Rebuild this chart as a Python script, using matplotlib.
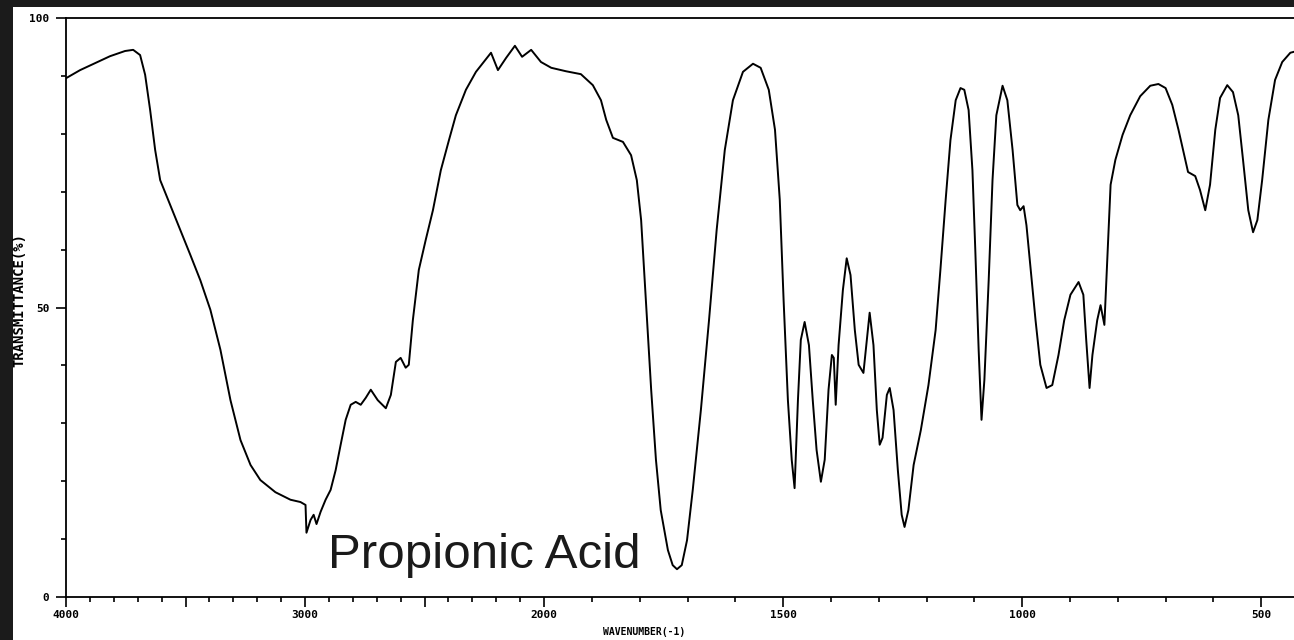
import numpy as np
import matplotlib
matplotlib.use("Agg")
import matplotlib.pyplot as plt
from matplotlib.ticker import FixedLocator, FixedFormatter
from matplotlib.patches import Rectangle

# wavenumber (cm-1) and transmittance (%)
wavenumber = [
    4000, 3941, 3878, 3816, 3753, 3719, 3690, 3669, 3648, 3627, 3606, 3564, 3522,
    3480, 3438, 3396, 3354, 3312, 3270, 3228, 3187, 3124, 3061, 3019, 2998, 2994,
    2977, 2964, 2952, 2935, 2914, 2893, 2872, 2851, 2830, 2809, 2788, 2767, 2746,
    2725, 2696, 2662, 2641, 2620, 2600, 2579, 2566, 2549, 2524, 2495, 2465, 2432,
    2398, 2369, 2327, 2285, 2247, 2222, 2193, 2159, 2122, 2092, 2054, 2013,
    1985, 1954, 1923, 1898, 1881, 1870, 1856, 1835, 1818, 1806, 1797, 1787, 1776,
    1766, 1756, 1741, 1731, 1722, 1712, 1701, 1689, 1672, 1655, 1639, 1622, 1605,
    1584, 1563, 1547, 1530, 1517, 1507, 1499, 1490, 1482, 1476, 1469, 1463, 1455,
    1446, 1438, 1430, 1421, 1413, 1405, 1398, 1394, 1390, 1384, 1375, 1367, 1359,
    1350, 1342, 1332, 1325, 1319, 1311, 1304, 1298, 1292, 1283, 1277, 1269, 1260,
    1252, 1246, 1238, 1227, 1212, 1196, 1181, 1171, 1160, 1150, 1139, 1129, 1121,
    1112, 1104, 1098, 1091, 1085, 1079, 1070, 1062, 1054, 1041, 1031, 1020, 1010,
    1004, 997, 991, 983, 972, 962, 949, 937, 924, 912, 899, 882, 872, 866, 859,
    853, 843, 836, 828, 822, 815, 805, 790, 774, 753, 732, 715, 700, 686, 673,
    661, 653, 638, 628, 617, 607, 596, 586, 571, 559, 548, 538, 527, 517, 508,
    498, 485, 471, 456, 439, 425,
]
transmittance = [
    89.6, 91.0, 92.2, 93.4, 94.3, 94.5, 93.6, 90.2, 84.1, 77.2, 72.0, 67.7, 63.4,
    59.1, 54.7, 49.6, 42.7, 34.0, 27.1, 22.8, 20.2, 18.1, 16.8, 16.4, 15.9, 11.1,
    13.3, 14.2, 12.6, 14.7, 16.8, 18.5, 21.9, 26.3, 30.6, 33.2, 33.7, 33.2, 34.4,
    35.8, 34.0, 32.6, 34.9, 40.6, 41.3, 39.6, 40.1, 47.8, 56.5, 61.7, 66.8, 73.7,
    78.9, 83.2, 87.6, 90.7, 92.7, 94.0, 91.0, 93.1, 95.2, 93.3, 94.5, 92.4,
    91.4, 90.8, 90.3, 88.4, 85.8, 82.4, 79.3, 78.6, 76.3, 72.0, 65.1, 51.3, 35.8,
    23.7, 15.0, 8.1, 5.5, 4.8, 5.5, 9.8, 18.5, 32.3, 47.8, 63.4, 77.2, 85.8,
    90.7, 92.1, 91.4, 87.6, 80.7, 68.6, 51.3, 34.0, 23.7, 18.8, 34.0, 44.4, 47.5,
    43.5, 34.0, 25.4, 19.9, 23.7, 35.8, 41.8, 41.3, 33.2, 43.5, 53.0, 58.5, 55.6,
    46.1, 40.1, 38.7, 44.4, 49.1, 43.5, 32.3, 26.3, 27.5, 34.9, 36.1, 32.3, 21.9,
    14.2, 12.1, 15.0, 22.8, 28.8, 36.6, 46.1, 56.5, 68.6, 78.9, 85.8, 87.9, 87.6,
    84.1, 73.7, 59.9, 42.7, 30.6, 37.5, 54.7, 72.0, 83.2, 88.3, 85.8, 77.2, 67.7,
    66.8, 67.5, 64.2, 57.3, 47.8, 40.1, 36.1, 36.6, 41.8, 47.8, 52.2, 54.4, 52.2, 44.4, 36.1,
    41.8, 47.8, 50.4, 47.0, 58.2, 71.2, 75.5, 79.8, 83.2, 86.5, 88.3, 88.6, 87.9, 85.0, 80.7,
    76.3, 73.4, 72.7, 70.3, 66.8, 71.2, 80.7, 86.2, 88.4, 87.2, 83.2, 75.5, 66.8, 63.0, 65.1,
    72.0, 82.4, 89.3, 92.4, 94.0, 94.3,
]

x_major = [4000, 3500, 3000, 2500, 2000, 1500, 1000, 500]
x_major_labels = ["4000", "", "3000", "", "2000", "1500", "1000", "500"]
y_major = [0, 50, 100]
y_major_labels = ["0", "50", "100"]


# spectrum chart: below 2000 cm-1 the scale is doubled
def fwd(w):
    w = np.asarray(w, dtype=float)
    return np.where(w >= 2000, w, 2 * w - 2000)


def inv(u):
    u = np.asarray(u, dtype=float)
    return np.where(u >= 2000, u, (u + 2000) / 2)


fig = plt.figure(figsize=(12.94, 6.4), dpi=100, facecolor="#1b1b1b")
fig.patches.append(Rectangle((13 / 1294, 0), 1, 633 / 640, transform=fig.transFigure,
                             facecolor="white", edgecolor="none", zorder=-5))

ax = fig.add_axes([66 / 1294, 43 / 640, 1243 / 1294, 579 / 640])
ax.set_zorder(2)
ax.set_facecolor("white")
ax.set_xscale("function", functions=(fwd, inv))
ax.plot(wavenumber, transmittance, color="black", lw=1.4)
ax.set_xlim(4000, 400)
ax.set_ylim(0, 100)

for s in ["left", "bottom", "top"]:
    ax.spines[s].set_linewidth(1.3)
ax.spines["right"].set_visible(False)

ax.xaxis.set_major_locator(FixedLocator(x_major))
ax.xaxis.set_major_formatter(FixedFormatter(x_major_labels))
minors = [w for w in range(400, 4000, 100) if w not in x_major]
ax.xaxis.set_minor_locator(FixedLocator(minors))
ax.yaxis.set_major_locator(FixedLocator(y_major))
ax.yaxis.set_major_formatter(FixedFormatter(y_major_labels))
ax.yaxis.set_minor_locator(FixedLocator(list(range(10, 100, 10))))
ax.tick_params(axis="both", which="major", length=7, width=1.2, color="black")
ax.tick_params(axis="both", which="minor", length=3.5, width=1.2, color="black")
ax.tick_params(axis="x", pad=2)
ax.tick_params(axis="y", pad=5)
for lab in ax.get_xticklabels() + ax.get_yticklabels():
    lab.set_fontfamily("DejaVu Sans Mono")
    lab.set_fontsize(8)
    lab.set_fontweight("bold")

fig.text(603 / 1294, 1 - 632 / 640, "WAVENUMBER(-1)", ha="left", va="center",
         family="DejaVu Sans Mono", size=7, weight="bold")
fig.text(19 / 1294, 1 - 300 / 640, "TRANSMITTANCE(%)", ha="center", va="center",
         rotation=90, family="DejaVu Sans Mono", size=10, weight="bold")
fig.text(328 / 1294, 1 - 568 / 640, "Propionic Acid", ha="left", va="baseline",
         family="Liberation Sans", size=35.5, color="#1a1a1a", zorder=5)

fig.savefig("out.png", dpi=100, facecolor=fig.get_facecolor())
